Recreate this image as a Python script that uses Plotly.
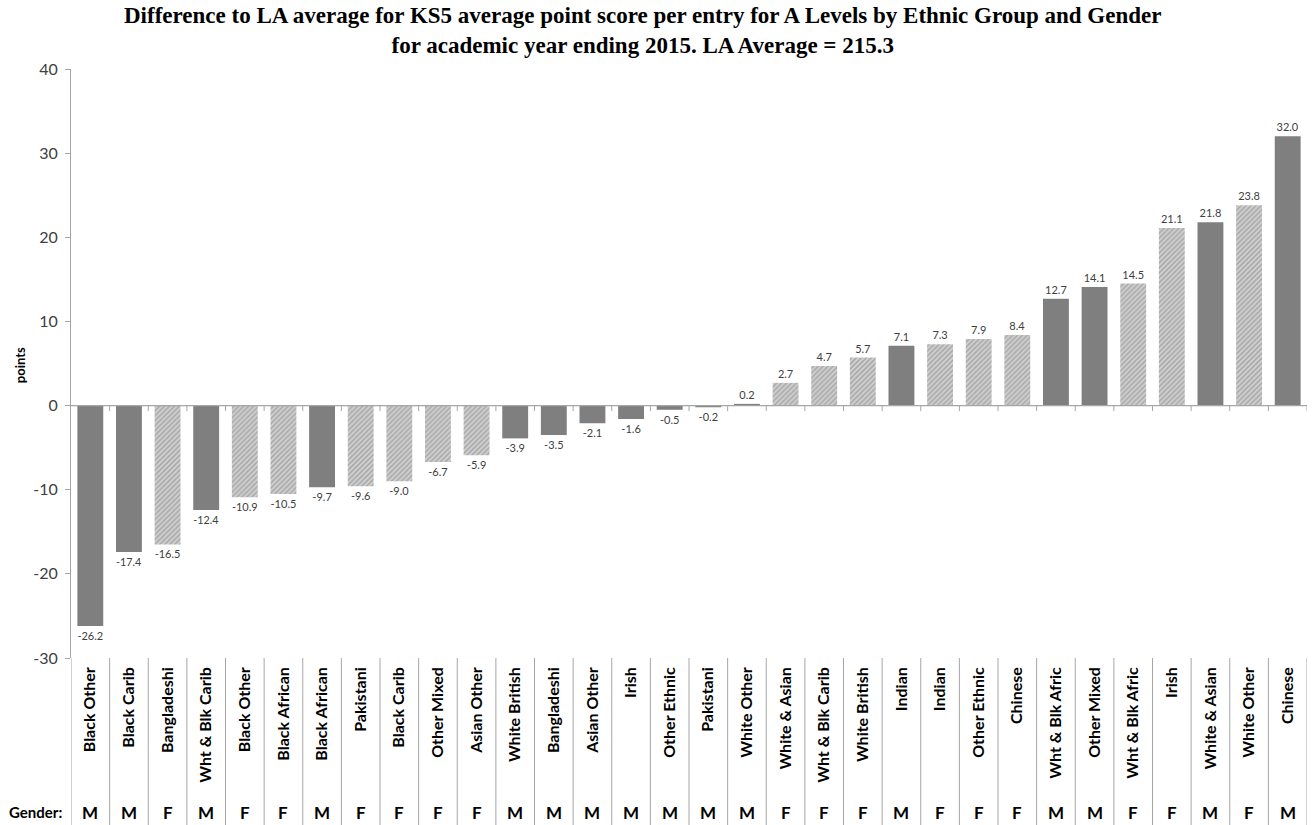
import plotly.graph_objects as go

categories = ["Black Other", "Black Carib", "Bangladeshi", "Wht & Blk Carib", "Black Other",
              "Black African", "Black African", "Pakistani", "Black Carib", "Other Mixed",
              "Asian Other", "White British", "Bangladeshi", "Asian Other", "Irish",
              "Other Ethnic", "Pakistani", "White Other", "White & Asian", "Wht & Blk Carib",
              "White British", "Indian", "Indian", "Other Ethnic", "Chinese",
              "Wht & Blk Afric", "Other Mixed", "Wht & Blk Afric", "Irish", "White & Asian",
              "White Other", "Chinese"]
genders = ["M", "M", "F", "M", "F", "F", "M", "F", "F", "F", "F", "M", "M", "M", "M", "M",
           "M", "M", "F", "F", "F", "M", "F", "F", "F", "M", "M", "F", "F", "M", "F", "M"]
values = [-26.2, -17.4, -16.5, -12.4, -10.9, -10.5, -9.7, -9.6, -9.0, -6.7, -5.9, -3.9,
          -3.5, -2.1, -1.6, -0.5, -0.2, 0.2, 2.7, 4.7, 5.7, 7.1, 7.3, 7.9, 8.4, 12.7,
          14.1, 14.5, 21.1, 21.8, 23.8, 32.0]
y_ticks = [-30, -20, -10, 0, 10, 20, 30, 40]
title_lines = ["Difference to LA average for KS5 average point score per entry for A Levels by Ethnic Group and Gender",
               "for academic year ending 2015. LA Average = 215.3"]

n = len(categories)
xs = list(range(n))
SANS = "Lato"

fig = go.Figure()
for g in ["M", "F"]:
    idx = [i for i in xs if genders[i] == g]
    if g == "M":
        marker = dict(color="#7f7f7f", line=dict(width=0))
    else:
        marker = dict(color="#d0d0d0", line=dict(width=0),
                      pattern=dict(shape="/", fillmode="overlay", fgcolor="#808080",
                                   size=3.5, solidity=0.45))
    fig.add_trace(go.Bar(
        x=idx, y=[values[i] for i in idx],
        text=[f"{values[i]:.1f}" for i in idx],
        textposition="outside", cliponaxis=False,
        textfont=dict(family=SANS, size=11, color="#404040"),
        marker=marker, width=0.67, showlegend=False,
    ))

shapes = []
shapes.append(dict(type="line", xref="paper", yref="y", x0=0, x1=1, y0=0, y1=0,
                   line=dict(color="#a6a6a6", width=1.2)))
for b in range(n + 1):
    xb = b - 0.5
    if 0 < b:
        shapes.append(dict(type="line", xref="x", yref="y", x0=xb, x1=xb, y0=0, y1=-0.65,
                           line=dict(color="#a6a6a6", width=1)))
    shapes.append(dict(type="line", xref="x", yref="paper", x0=xb, x1=xb, y0=0, y1=-0.29,
                       line=dict(color="#a6a6a6", width=1)))

annotations = []
for i in xs:
    annotations.append(dict(x=i, xref="x", y=-0.262, yref="paper", text=f"<b>{genders[i]}</b>",
                            showarrow=False, yanchor="middle",
                            font=dict(family=SANS, size=17, color="#000000")))
annotations.append(dict(x=-0.006, xref="paper", y=-0.262, yref="paper", text="<b>Gender:</b>",
                        showarrow=False, xanchor="right", yanchor="middle",
                        font=dict(family=SANS, size=15, color="#000000")))
annotations.append(dict(x=-0.0413, xref="paper", y=0.497, yref="paper", text="<b>points</b>",
                        showarrow=False, textangle=-90, xanchor="center", yanchor="middle",
                        font=dict(family=SANS, size=13, color="#000000")))
annotations.append(dict(x=0.462, xref="paper", y=1.0655, yref="paper",
                        text="<b>" + "<br>".join(title_lines) + "</b>",
                        showarrow=False, xanchor="center", yanchor="middle", align="center",
                        font=dict(family="Liberation Serif", size=23, color="#000000")))

fig.update_layout(
    width=1313, height=825,
    margin=dict(l=71, r=6, t=69, b=167),
    plot_bgcolor="white", paper_bgcolor="white",
    bargap=0.33,
    shapes=shapes, annotations=annotations,
    xaxis=dict(range=[-0.5, n - 0.5], tickmode="array", tickvals=xs,
               ticktext=[f"<b>{c}</b>" for c in categories], tickangle=-90,
               tickfont=dict(family=SANS, size=16, color="#000000"),
               showgrid=False, zeroline=False, showline=False, ticks="",
               ticklabelstandoff=5),
    yaxis=dict(range=[-30, 40], tickmode="array", tickvals=y_ticks,
               ticktext=[str(v) for v in y_ticks],
               showgrid=False, zeroline=False, showline=True, linecolor="#a6a6a6",
               linewidth=1, ticks="outside", ticklen=5, tickcolor="#a6a6a6",
               ticklabelstandoff=4,
               tickfont=dict(family=SANS, size=16, color="#404040")),
)

fig.write_html("out.html", config={"displayModeBar": False},
               post_script="document.body.style.margin='0px';")
